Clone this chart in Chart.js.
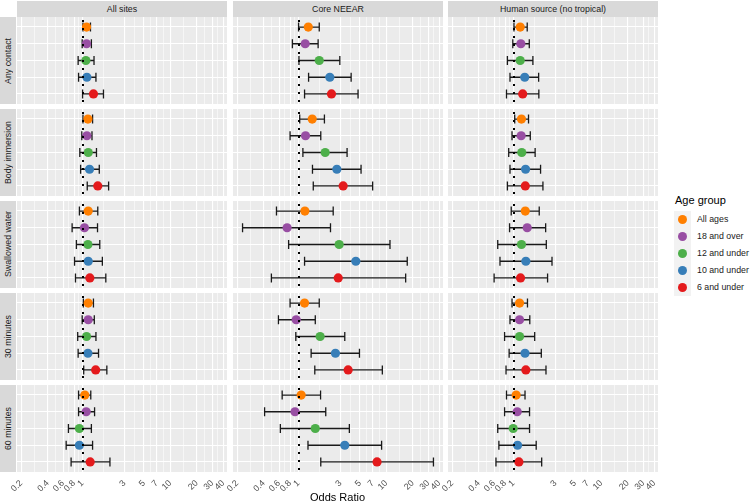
<!DOCTYPE html>
<html>
<head>
<meta charset="utf-8">
<script src="https://cdn.jsdelivr.net/npm/chart.js@4.4.1/dist/chart.umd.min.js"></script>
<style>
  body { margin: 0; background: #fff; }
  #fig { position: relative; width: 750px; height: 503px; overflow: hidden; font-family: "Liberation Sans", Arial, sans-serif; }
  .strip { position: absolute; background: #D9D9D9; color: #1A1A1A; font-size: 8.8px; display: flex; align-items: center; justify-content: center; }
  .strip.side span { writing-mode: vertical-rl; transform: rotate(180deg); }
  .panel { position: absolute; }
  .panel canvas { display: block; }
  .leg { position: absolute; font-size: 8.8px; color: #1A1A1A; white-space: nowrap; }
  .key { position: absolute; width: 17px; height: 17px; background: #F2F2F2; }
  .key i { position: absolute; left: 4px; top: 4px; width: 9px; height: 9px; border-radius: 50%; }
</style>
</head>
<body>
<div id="fig"></div>
<script>
// facettes
var sites = ["All sites", "Core NEEAR", "Human source (no tropical)"];
var exposures = ["Any contact", "Body immersion", "Swallowed water", "30 minutes", "60 minutes"];
var ageGroups = ["All ages", "18 and over", "12 and under", "10 and under", "6 and under"];
var ageColors = ["#FF7F00", "#984EA3", "#4DAF4A", "#377EB8", "#E41A1C"];

// axe x (log)
var tickValues = [0.2, 0.4, 0.6, 0.8, 1, 3, 5, 7, 10, 20, 30, 40];
var tickLabels = ["0.2", "0.4", "0.6", "0.8", "1", "3", "5", "7", "10", "20", "30", "40"];

// odds ratio : une ligne par exposition, une valeur par groupe d'age
var allSitesOR = [[1.11, 1.11, 1.09, 1.12, 1.33], [1.15, 1.12, 1.16, 1.20, 1.49], [1.16, 1.05, 1.15, 1.16, 1.21], [1.16, 1.16, 1.11, 1.15, 1.41], [1.06, 1.10, 0.92, 0.92, 1.22]];
var allSitesLo = [[1.01, 0.99, 0.89, 0.90, 1.00], [1.01, 0.98, 0.93, 0.95, 1.13], [0.92, 0.76, 0.85, 0.81, 0.83], [1.02, 0.99, 0.88, 0.89, 1.03], [0.90, 0.90, 0.69, 0.65, 0.74]];
var allSitesHi = [[1.23, 1.26, 1.35, 1.42, 1.73], [1.30, 1.28, 1.44, 1.55, 1.98], [1.49, 1.48, 1.57, 1.68, 1.84], [1.33, 1.36, 1.42, 1.52, 1.89], [1.24, 1.37, 1.26, 1.30, 2.05]];

var neearOR = [[1.29, 1.19, 1.72, 2.27, 2.37], [1.43, 1.20, 2.01, 2.73, 3.22], [1.18, 0.74, 2.90, 4.49, 2.83], [1.17, 0.94, 1.76, 2.63, 3.67], [1.07, 0.91, 1.55, 3.36, 7.83]];
var neearLo = [[1.00, 0.85, 1.01, 1.30, 1.17], [1.03, 0.80, 1.12, 1.44, 1.47], [0.56, 0.23, 0.77, 1.17, 0.49], [0.80, 0.59, 0.93, 1.39, 1.53], [0.65, 0.41, 0.62, 1.28, 1.79]];
var neearHi = [[1.72, 1.67, 2.95, 3.97, 4.76], [1.97, 1.79, 3.57, 5.15, 6.98], [2.48, 2.31, 11.0, 17.3, 16.6], [1.72, 1.55, 3.36, 4.94, 9.0], [1.78, 2.04, 3.79, 8.83, 34.4]];

var humanOR = [[1.19, 1.21, 1.19, 1.34, 1.27], [1.23, 1.22, 1.24, 1.37, 1.36], [1.36, 1.43, 1.23, 1.38, 1.20], [1.17, 1.17, 1.17, 1.35, 1.38], [1.07, 1.10, 0.99, 1.11, 1.15]];
var humanLo = [[1.01, 0.98, 0.85, 0.91, 0.83], [1.03, 0.96, 0.88, 0.91, 0.85], [0.94, 0.90, 0.66, 0.70, 0.60], [0.96, 0.91, 0.79, 0.89, 0.82], [0.83, 0.79, 0.66, 0.68, 0.63]];
var humanHi = [[1.43, 1.51, 1.66, 1.93, 1.94], [1.48, 1.55, 1.76, 2.03, 2.16], [1.96, 2.32, 2.36, 2.74, 2.44], [1.44, 1.53, 1.74, 2.07, 2.34], [1.35, 1.52, 1.52, 1.81, 2.09]];

var orData = [allSitesOR, neearOR, humanOR];
var loData = [allSitesLo, neearLo, humanLo];
var hiData = [allSitesHi, neearHi, humanHi];

// mise en page
var colLeft = [17, 233, 448];
var rowTop = [17, 109, 201, 293, 385];
var panelW = 210, panelH = 87, axisH = 30, padL = 16;
var xMin = 0.179, xMax = 44.2;

// lignes mineures au milieu (en log) des graduations
var minorValues = [];
for (var i = 0; i < tickValues.length - 1; i++) {
    minorValues.push(Math.sqrt(tickValues[i] * tickValues[i + 1]));
}
var gridValues = tickValues.concat(minorValues).sort(function(a, b) { return a - b; });

var fig = document.getElementById("fig");

function addDiv(cls, css, html) {
    var d = document.createElement("div");
    d.className = cls;
    d.style.cssText = css;
    if (html !== undefined) d.innerHTML = html;
    fig.appendChild(d);
    return d;
}

// fond du panneau
var bgPlugin = {
    id: "bg",
    beforeDraw: function(chart) {
        var a = chart.chartArea, c = chart.ctx;
        c.save();
        c.fillStyle = "#EBEBEB";
        c.fillRect(a.left, a.top, a.right - a.left, a.bottom - a.top);
        c.restore();
    }
};

// barres d'erreur sous les points
var errPlugin = {
    id: "err",
    beforeDatasetsDraw: function(chart) {
        var ds = chart.data.datasets[0];
        var xs = chart.scales.x, ys = chart.scales.y, c = chart.ctx;
        c.save();
        c.strokeStyle = "#1A1A1A";
        c.lineWidth = 1.3;
        for (var i = 0; i < ds.data.length; i++) {
            var y = ys.getPixelForValue(i);
            var x1 = xs.getPixelForValue(ds.lo[i]);
            var x2 = xs.getPixelForValue(ds.hi[i]);
            c.beginPath();
            c.moveTo(x1, y); c.lineTo(x2, y);
            c.moveTo(x1, y - 4.5); c.lineTo(x1, y + 4.5);
            c.moveTo(x2, y - 4.5); c.lineTo(x2, y + 4.5);
            c.stroke();
        }
        c.restore();
    }
};

// ligne pointillee a OR = 1
var refPlugin = {
    id: "ref",
    afterDatasetsDraw: function(chart) {
        var a = chart.chartArea, c = chart.ctx;
        var x = Math.round(chart.scales.x.getPixelForValue(1));
        c.save();
        c.strokeStyle = "#000";
        c.lineWidth = 2;
        c.setLineDash([2, 6]);
        c.beginPath();
        c.moveTo(x, a.top + 3); c.lineTo(x, a.bottom);
        c.stroke();
        c.restore();
    }
};

function makePanel(s, e) {
    var bottom = (e === exposures.length - 1);
    var h = panelH + (bottom ? axisH : 0);
    var pl = bottom ? padL : 0;
    var w = panelW + pl;
    var wrap = addDiv("panel", "left:" + (colLeft[s] - pl) + "px;top:" + rowTop[e] + "px;width:" + w + "px;height:" + h + "px;");
    var cv = document.createElement("canvas");
    cv.width = w;
    cv.height = h;
    cv.style.width = w + "px";
    cv.style.height = h + "px";
    wrap.appendChild(cv);
    var pts = orData[s][e].map(function(v, i) { return {x: v, y: i}; });
    new Chart(cv, {
        type: "scatter",
        data: {
            datasets: [{
                data: pts,
                lo: loData[s][e],
                hi: hiData[s][e],
                pointBackgroundColor: ageColors,
                pointBorderWidth: 0,
                pointRadius: 4.6,
                pointHoverRadius: 4.6
            }]
        },
        options: {
            responsive: false,
            maintainAspectRatio: false,
            animation: false,
            events: [],
            devicePixelRatio: 1,
            layout: {padding: {left: pl, right: 0, top: 0, bottom: 0}, autoPadding: false},
            plugins: {legend: {display: false}, tooltip: {enabled: false}},
            scales: {
                x: {
                    type: "logarithmic",
                    min: xMin,
                    max: xMax,
                    afterBuildTicks: function(sc) {
                        sc.ticks = gridValues.map(function(v) { return {value: v}; });
                    },
                    afterFit: function(sc) {
                        sc.height = bottom ? axisH : 0;
                        sc.paddingLeft = 0;
                        sc.paddingRight = 0;
                    },
                    border: {display: false},
                    grid: {
                        color: "#FFFFFF",
                        lineWidth: function(ctx) {
                            return tickValues.indexOf(ctx.tick.value) >= 0 ? 1.1 : 0.55;
                        },
                        drawTicks: false
                    },
                    ticks: {
                        display: bottom,
                        autoSkip: false,
                        minRotation: 45,
                        maxRotation: 45,
                        padding: 6,
                        color: "#4D4D4D",
                        font: {family: "'Liberation Sans', Arial, sans-serif", size: 8.8},
                        callback: function(v) {
                            var k = tickValues.indexOf(v);
                            return k >= 0 ? tickLabels[k] : "";
                        }
                    }
                },
                y: {
                    type: "linear",
                    min: -0.6,
                    max: ageGroups.length - 0.4,
                    reverse: true,
                    afterBuildTicks: function(sc) {
                        sc.ticks = ageGroups.map(function(g, i) { return {value: i}; });
                    },
                    afterFit: function(sc) { sc.width = 0; },
                    border: {display: false},
                    grid: {color: "#FFFFFF", lineWidth: 1.1, drawTicks: false},
                    ticks: {display: false}
                }
            }
        },
        plugins: [bgPlugin, errPlugin, refPlugin]
    });
}

// bandeaux
sites.forEach(function(name, s) {
    addDiv("strip", "left:" + colLeft[s] + "px;top:1px;width:" + panelW + "px;height:16px;", name);
});
exposures.forEach(function(name, e) {
    addDiv("strip side", "left:0px;top:" + rowTop[e] + "px;width:16px;height:" + panelH + "px;", "<span>" + name + "</span>");
});

// panneaux
for (var s = 0; s < sites.length; s++) {
    for (var e = 0; e < exposures.length; e++) {
        makePanel(s, e);
    }
}

// titre de l'axe x
addDiv("leg", "left:" + colLeft[0] + "px;width:" + (colLeft[2] + panelW - colLeft[0]) + "px;top:491px;text-align:center;font-size:11px;color:#000;", "Odds Ratio");

// legende
addDiv("leg", "left:675px;top:194px;font-size:11px;color:#000;", "Age group");
ageGroups.forEach(function(g, i) {
    var cy = 219 + i * 17;
    addDiv("key", "left:674px;top:" + (cy - 8.5) + "px;", "<i style='background:" + ageColors[i] + "'></i>");
    addDiv("leg", "left:697px;top:" + (cy - 5.5) + "px;", g);
});
</script>
</body>
</html>
